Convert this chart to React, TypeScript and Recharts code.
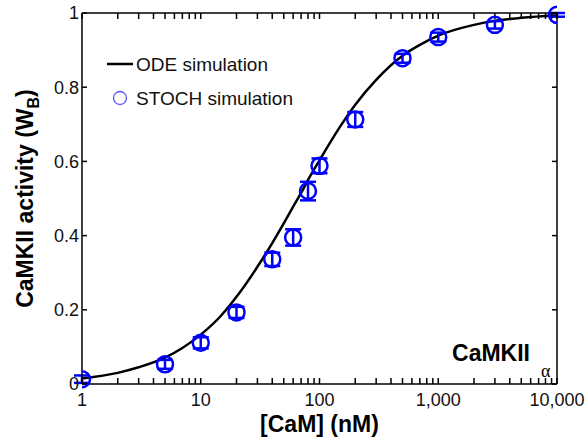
import React from 'react';
import { ComposedChart, Line, Scatter, ErrorBar, XAxis, YAxis } from 'recharts';

const FONT = '"Liberation Sans", Arial, Helvetica, sans-serif';
const BLUE = '#0000ff';

// ODE simulation curve
const odeX = [1, 2, 3, 5, 7, 10, 15, 20, 30, 40, 50, 60, 70, 80, 100, 150, 200, 300, 500, 700, 1000, 2000, 3000, 5000, 10000];
const odeY = [0.015, 0.03, 0.045, 0.071, 0.097, 0.133, 0.186, 0.235, 0.316, 0.38, 0.433, 0.478, 0.515, 0.55, 0.603, 0.695, 0.753, 0.82, 0.885, 0.914, 0.939, 0.968, 0.979, 0.987, 0.994];

// STOCH simulation points with error bars
const stochX = [1, 5, 10, 20, 40, 60, 80, 100, 200, 500, 1000, 3000, 10000];
const stochY = [0.013, 0.053, 0.111, 0.193, 0.336, 0.395, 0.52, 0.588, 0.713, 0.878, 0.935, 0.968, 0.995];
const stochErr = [0.01, 0.012, 0.015, 0.015, 0.018, 0.022, 0.025, 0.02, 0.02, 0.012, 0.012, 0.01, 0.005];

const majorX = [1, 10, 100, 1000, 10000];
const minorMult = [1, 2, 3, 4, 5, 6, 7, 8, 9];
const xTicks = [...majorX.slice(0, -1).flatMap((d) => minorMult.map((m) => d * m)), 10000];
const yTicks = [0, 0.2, 0.4, 0.6, 0.8, 1];
const yLabels = ['0', '0.2', '0.4', '0.6', '0.8', '1'];

const odeData = odeX.map((x, i) => ({ x, y: odeY[i] }));
const stochData = stochX.map((x, i) => ({ x, y: stochY[i], err: stochErr[i] }));

const fmtX = (v: number) => (majorX.includes(v) ? v.toLocaleString('en-US') : '');
const fmtY = (v: number) => yLabels[yTicks.indexOf(v)] ?? '';
const blank = () => '';

const axisLine = { stroke: '#000', strokeWidth: 1.5 };
const tickLine = { stroke: '#000', strokeWidth: 1.5 };
const tickText = { fontSize: 18, fill: '#111', fontFamily: FONT };

const YTitle = (props: any) => {
  const vb = props.viewBox || { x: 22, y: 13, width: 60, height: 371 };
  const cy = vb.y + vb.height / 2;
  return (
    <text
      transform={`translate(33, ${cy}) rotate(-90)`}
      textAnchor="middle"
      fontSize={23}
      fontWeight="bold"
      fontFamily={FONT}
      fill="#000"
    >
      CaMKII activity (W
      <tspan dy={6} fontSize={16}>B</tspan>
      <tspan dy={-6}>)</tspan>
    </text>
  );
};

export default function App() {
  return (
    <div style={{ position: 'fixed', left: 0, top: 0, width: 588, height: 438, background: '#fff' }}>
      <ComposedChart width={588} height={438} margin={{ top: 12, right: 30, bottom: 24, left: 22 }}>
        <XAxis
          xAxisId="bottom"
          dataKey="x"
          type="number"
          scale="log"
          domain={[1, 10000]}
          ticks={xTicks}
          interval={0}
          height={30}
          tickSize={-6}
          tickMargin={15}
          tickLine={tickLine}
          axisLine={axisLine}
          tick={tickText}
          tickFormatter={fmtX}
          allowDataOverflow
          label={{
            value: '[CaM] (nM)',
            position: 'insideBottom',
            offset: -18,
            fontSize: 23,
            fontWeight: 'bold',
            fontFamily: FONT,
            fill: '#000',
          }}
        />
        <XAxis
          xAxisId="top"
          orientation="top"
          dataKey="x"
          type="number"
          scale="log"
          domain={[1, 10000]}
          ticks={xTicks}
          interval={0}
          height={1}
          tickSize={-6}
          tickLine={tickLine}
          axisLine={axisLine}
          tick={tickText}
          tickFormatter={blank}
          allowDataOverflow
        />
        <YAxis
          yAxisId="left"
          type="number"
          domain={[0, 1]}
          ticks={yTicks}
          interval={0}
          width={60}
          tickSize={-5}
          tickMargin={8}
          tickLine={tickLine}
          axisLine={axisLine}
          tick={tickText}
          tickFormatter={fmtY}
          label={<YTitle />}
        />
        <YAxis
          yAxisId="right"
          orientation="right"
          type="number"
          domain={[0, 1]}
          ticks={yTicks}
          interval={0}
          width={1}
          tickSize={-5}
          tickLine={tickLine}
          axisLine={axisLine}
          tick={tickText}
          tickFormatter={blank}
        />
        {/* invisible copy so the top/right box axes get their ticks */}
        <Line
          xAxisId="top"
          yAxisId="right"
          data={odeData}
          dataKey="y"
          stroke="none"
          dot={false}
          activeDot={false}
          isAnimationActive={false}
        />
        <Line
          xAxisId="bottom"
          yAxisId="left"
          data={odeData}
          dataKey="y"
          type="monotone"
          stroke="#000"
          strokeWidth={2.5}
          dot={false}
          isAnimationActive={false}
        />
        <Scatter
          xAxisId="bottom"
          yAxisId="left"
          data={stochData}
          dataKey="y"
          isAnimationActive={false}
          shape={(p: any) => (
            <circle cx={p.cx} cy={p.cy} r={8} fill="none" stroke={BLUE} strokeWidth={2.5} />
          )}
        >
          <ErrorBar dataKey="err" direction="y" width={8} stroke={BLUE} strokeWidth={2.5} isAnimationActive={false} />
        </Scatter>
      </ComposedChart>
      <svg width={588} height={438} style={{ position: 'absolute', left: 0, top: 0, pointerEvents: 'none' }}>
        <line x1={107} x2={133} y1={64} y2={64} stroke="#000" strokeWidth={2.5} />
        <text x={136} y={71} fontSize={19} fontFamily={FONT} fill="#111">ODE simulation</text>
        <circle cx={120} cy={98} r={6.5} fill="none" stroke="#5a5aff" strokeWidth={1.3} />
        <text x={136} y={105} fontSize={19} fontFamily={FONT} fill="#111">STOCH simulation</text>
        <text x={530} y={361} textAnchor="end" fontSize={23} fontWeight="bold" fontFamily={FONT} fill="#000">CaMKII</text>
        <text x={541} y={377} fontSize={18} fontFamily='"Liberation Serif", serif' fill="#000">α</text>
      </svg>
    </div>
  );
}
